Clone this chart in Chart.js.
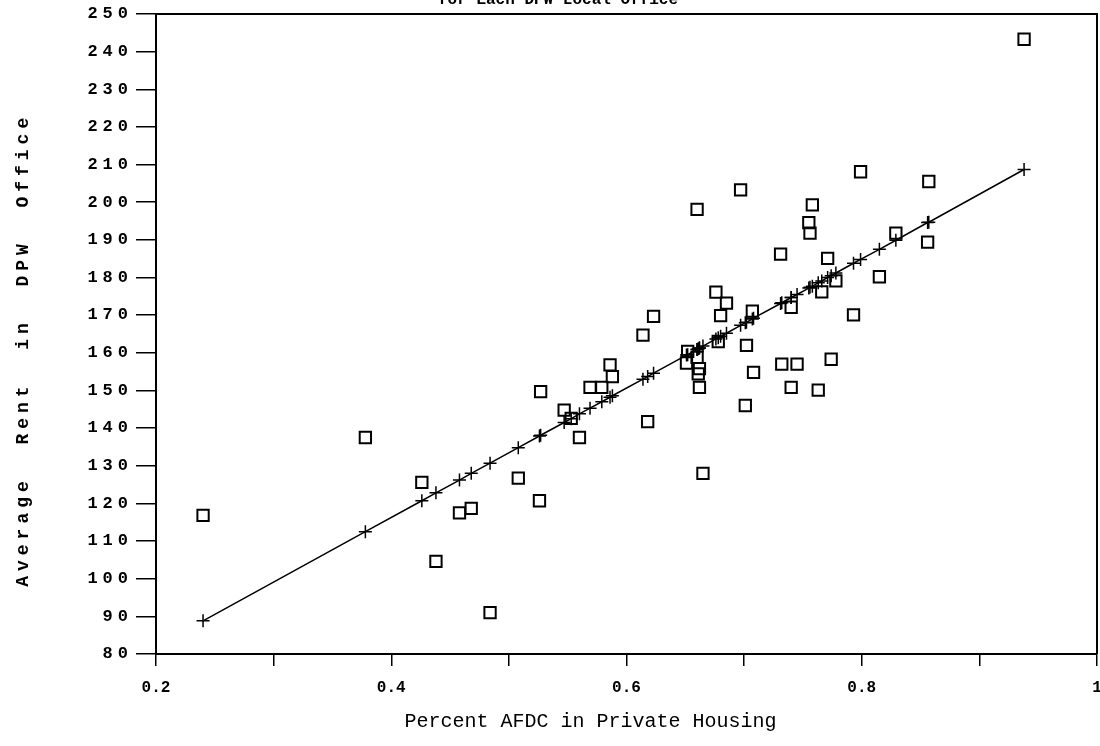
<!DOCTYPE html>
<html>
<head>
<meta charset="utf-8">
<title>Average Rent vs Percent AFDC in Private Housing</title>
<script src="https://cdn.jsdelivr.net/npm/chart.js@4/dist/chart.umd.min.js"></script>
<style>
	html, body { margin: 0; padding: 0; background: #fff; }
	#wrap { width: 1100px; height: 746px; position: relative; }
</style>
</head>
<body>
<div id="wrap"><canvas id="rentChart"></canvas></div>
<script>
// percent AFDC in private housing, one entry per DPW local office (sorted)
var pctAfdc = [
	0.240, 0.378, 0.426, 0.438, 0.458, 0.468, 0.484, 0.508, 0.526, 0.527,
	0.547, 0.553, 0.560, 0.569, 0.579, 0.586, 0.588, 0.614, 0.618, 0.623,
	0.651, 0.652, 0.660, 0.660, 0.661, 0.662, 0.662, 0.665, 0.676, 0.678,
	0.680, 0.685, 0.697, 0.701, 0.702, 0.707, 0.708, 0.731, 0.732, 0.740,
	0.740, 0.745, 0.755, 0.756, 0.758, 0.763, 0.766, 0.771, 0.774, 0.778,
	0.793, 0.799, 0.815, 0.829, 0.856, 0.857, 0.938
];
// observed average rent (squares)
var avgRent = [
	116.8, 137.5, 125.6, 104.6, 117.5, 118.7, 91.0, 126.7, 120.7, 149.7,
	144.8, 142.6, 137.5, 150.8, 150.8, 156.8, 153.7, 164.7, 141.7, 169.7,
	157.3, 160.4, 158.8, 198.1, 154.4, 155.8, 150.8, 128.0, 176.1, 163.0,
	169.9, 173.2, 203.3, 146.0, 162.0, 171.1, 154.8, 186.2, 157.0, 172.1,
	150.8, 157.0, 194.6, 191.8, 199.3, 150.1, 176.2, 185.1, 158.3, 179.1,
	170.1, 208.1, 180.2, 191.8, 189.4, 205.5, 243.3
];
// fitted rent (plus markers)
var fittedRent = [
	88.8, 112.5, 120.7, 122.8, 126.2, 128.0, 130.7, 134.8, 137.9, 138.1,
	141.5, 142.5, 143.8, 145.3, 147.0, 148.2, 148.6, 153.0, 153.7, 154.6,
	159.4, 159.5, 160.9, 160.9, 161.1, 161.3, 161.3, 161.8, 163.7, 164.0,
	164.4, 165.2, 167.3, 168.0, 168.1, 169.0, 169.2, 173.1, 173.3, 174.7,
	174.7, 175.5, 177.2, 177.4, 177.7, 178.6, 179.1, 180.0, 180.5, 181.2,
	183.8, 184.8, 187.5, 189.9, 194.6, 194.7, 208.7
];
var xTickLabels = ['0.2', '0.4', '0.6', '0.8', '1'];
var yRange = [80, 250];
var xRange = [0.2, 1.0];

function points(xs, ys) {
	return xs.map(function (x, i) { return { x: x, y: ys[i] }; });
}

// frame + cut-off title line + letter spacing for the left axis text
var framePlugin = {
	id: 'frame',
	beforeDatasetsDraw: function (c) {
		var a = c.chartArea, ctx = c.ctx;
		ctx.save();
		ctx.strokeStyle = '#000';
		ctx.lineWidth = 2;
		ctx.beginPath();
		ctx.moveTo(a.left, a.top);
		ctx.lineTo(a.right, a.top);
		ctx.lineTo(a.right, a.bottom);
		ctx.stroke();
		ctx.restore();
	},
	afterDatasetsDraw: function (c) {
		c.ctx.letterSpacing = '5px';
	},
	afterDraw: function (c) {
		var ctx = c.ctx;
		ctx.letterSpacing = '0px';
		ctx.save();
		ctx.fillStyle = '#000';
		ctx.font = 'bold 16px "Liberation Mono"';
		ctx.textAlign = 'left';
		ctx.textBaseline = 'alphabetic';
		ctx.fillText('for Each DPW Local Office', 438, 4);
		ctx.restore();
	}
};

var ctx = document.getElementById('rentChart').getContext('2d');
new Chart(ctx, {
	type: 'scatter',
	data: {
		datasets: [{
			label: 'Average Rent',
			data: points(pctAfdc, avgRent),
			pointStyle: 'rect',
			pointRadius: 8,
			pointBorderWidth: 2,
			pointBorderColor: '#000',
			pointBackgroundColor: 'rgba(0,0,0,0)',
			showLine: false
		}, {
			label: 'Fitted',
			data: points(pctAfdc, fittedRent),
			pointStyle: 'cross',
			pointRadius: 6.5,
			pointBorderWidth: 1.5,
			pointBorderColor: '#000',
			showLine: true,
			borderColor: '#000',
			borderWidth: 1.5,
			tension: 0,
			fill: false
		}]
	},
	options: {
		responsive: true,
		maintainAspectRatio: false,
		animation: false,
		layout: { autoPadding: false, padding: { top: 14, right: 3, left: 0, bottom: 0 } },
		plugins: {
			legend: { display: false },
			tooltip: { enabled: false }
		},
		scales: {
			x: {
				type: 'linear',
				min: xRange[0],
				max: xRange[1],
				afterFit: function (s) {
					s.height = 92;
					s.paddingLeft = 0;
					s.paddingRight = 0;
				},
				border: { display: true, color: '#000', width: 2 },
				grid: { drawOnChartArea: false, tickLength: 12, color: '#000', lineWidth: 1.5 },
				ticks: {
					stepSize: 0.1,
					autoSkip: false,
					maxRotation: 0,
					padding: 12,
					color: '#000',
					font: { family: 'Liberation Mono', size: 16, weight: 'bold' },
					callback: function (v) {
						var k = Math.round(v * 10);
						return k % 2 === 0 ? xTickLabels[(k - 2) / 2] : '';
					}
				},
				title: {
					display: true,
					text: 'Percent AFDC in Private Housing      ',
					color: '#000',
					font: { family: 'Liberation Mono', size: 20, weight: 'normal' },
					padding: { top: 0, bottom: 12 }
				}
			},
			y: {
				type: 'linear',
				min: yRange[0],
				max: yRange[1],
				afterFit: function (s) { s.width = 156; },
				border: { display: true, color: '#000', width: 2, z: 1 },
				grid: { drawOnChartArea: false, tickLength: 20, color: '#000', lineWidth: 1.5, z: 1 },
				ticks: {
					stepSize: 10,
					autoSkip: false,
					padding: 3,
					z: 1,
					color: '#000',
					font: { family: 'Liberation Mono', size: 17, weight: 'bold' }
				},
				title: {
					display: true,
					text: 'Average  Rent  in  DPW  Office  ',
					color: '#000',
					font: { family: 'Liberation Mono', size: 18, weight: 'bold' },
					padding: { top: 13, bottom: 0 }
				}
			}
		}
	},
	plugins: [framePlugin]
});
</script>
</body>
</html>
